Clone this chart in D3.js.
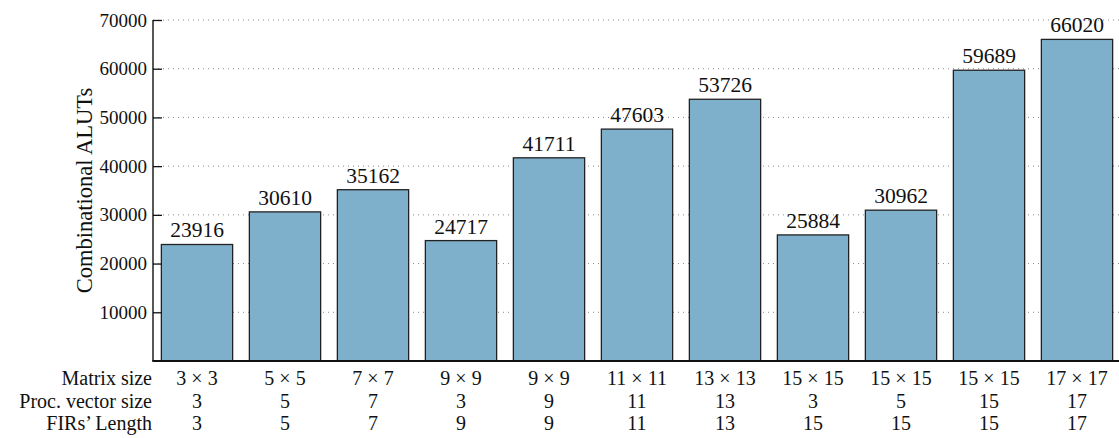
<!DOCTYPE html>
<html>
<head>
<meta charset="utf-8">
<script src="https://cdn.jsdelivr.net/npm/d3@7"></script>
<style>
  html, body { margin: 0; padding: 0; background: #fff; }
  svg { display: block; }
  text { font-family: "Liberation Serif", "DejaVu Serif", serif; fill: #111; }
</style>
</head>
<body>
<svg id="chart" width="1119" height="438"></svg>
<script>
// Resource usage per configuration
const matrixSize = ["3 × 3", "5 × 5", "7 × 7", "9 × 9", "9 × 9", "11 × 11", "13 × 13", "15 × 15", "15 × 15", "15 × 15", "17 × 17"];
const procVectorSize = ["3", "5", "7", "3", "9", "11", "13", "3", "5", "15", "17"];
const firLength = ["3", "5", "7", "9", "9", "11", "13", "15", "15", "15", "17"];
const aluts = [23916, 30610, 35162, 24717, 41711, 47603, 53726, 25884, 30962, 59689, 66020];
const yTicks = [10000, 20000, 30000, 40000, 50000, 60000, 70000];
const rowLabels = ["Matrix size", "Proc. vector size", "FIRs’ Length"];

const svg = d3.select("#chart");
const plotLeft = 153, plotRight = 1121, plotTop = 20, plotBottom = 361;

const x = d3.scaleBand()
  .domain(d3.range(aluts.length))
  .range([plotLeft, plotRight])
  .paddingInner(0.19)
  .paddingOuter(0.095);

const y = d3.scaleLinear().domain([0, 70000]).range([plotBottom, plotTop]);

// dotted horizontal grid
svg.append("g")
  .selectAll("line")
  .data(yTicks)
  .join("line")
  .attr("x1", plotLeft).attr("x2", 1119)
  .attr("y1", d => y(d)).attr("y2", d => y(d))
  .attr("stroke", "#888")
  .attr("stroke-width", 1)
  .attr("stroke-dasharray", "1,4");

// bars
svg.append("g")
  .selectAll("rect")
  .data(aluts)
  .join("rect")
  .attr("x", (d, i) => x(i))
  .attr("width", x.bandwidth())
  .attr("y", d => y(d))
  .attr("height", d => y(0) - y(d))
  .attr("fill", "#7fb0cb")
  .attr("stroke", "#222")
  .attr("stroke-width", 1.3);

// value labels
svg.append("g")
  .selectAll("text")
  .data(aluts)
  .join("text")
  .attr("x", (d, i) => x(i) + x.bandwidth() / 2)
  .attr("y", d => y(d) - 7)
  .attr("text-anchor", "middle")
  .attr("font-size", 21.5)
  .text(d => d);

// left axis with inward ticks
const yAxis = d3.axisLeft(y).tickValues(yTicks).tickSize(-9).tickPadding(6).tickFormat(d3.format("d"));
const gy = svg.append("g").attr("transform", `translate(${plotLeft},0)`).call(yAxis);
gy.attr("font-family", null).attr("font-size", null);
gy.select(".domain").remove();
gy.selectAll(".tick line").attr("stroke", "#111").attr("stroke-width", 1.3);
gy.selectAll(".tick text").attr("font-size", 19).attr("fill", "#111");

svg.append("line")
  .attr("x1", plotLeft).attr("x2", plotLeft)
  .attr("y1", plotTop).attr("y2", plotBottom)
  .attr("stroke", "#111").attr("stroke-width", 1.4);
svg.append("line")
  .attr("x1", plotLeft - 0.7).attr("x2", 1119)
  .attr("y1", plotBottom).attr("y2", plotBottom)
  .attr("stroke", "#111").attr("stroke-width", 2);

// y axis title
svg.append("text")
  .attr("transform", `translate(92,${(plotTop + plotBottom) / 2}) rotate(-90)`)
  .attr("text-anchor", "middle")
  .attr("font-size", 22.5)
  .text("Combinational ALUTs");

// category table below the axis
const rows = [matrixSize, procVectorSize, firLength];
const rowY = [385, 408, 430];
rows.forEach((vals, r) => {
  svg.append("text")
    .attr("x", 152).attr("y", rowY[r])
    .attr("text-anchor", "end")
    .attr("font-size", 20)
    .text(rowLabels[r]);
  svg.append("g")
    .selectAll("text")
    .data(vals)
    .join("text")
    .attr("x", (d, i) => x(i) + x.bandwidth() / 2)
    .attr("y", rowY[r])
    .attr("text-anchor", "middle")
    .attr("font-size", 20)
    .text(d => d);
});
</script>
</body>
</html>
